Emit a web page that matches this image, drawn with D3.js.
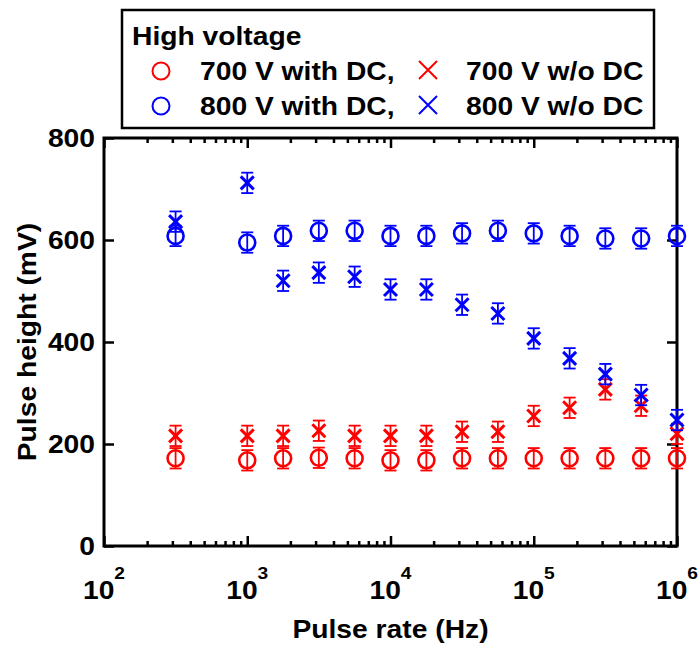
<!DOCTYPE html>
<html>
<head>
<meta charset="utf-8">
<script src="https://cdn.jsdelivr.net/npm/d3@7"></script>
<style>
  html, body { margin: 0; padding: 0; background: #fff; }
  svg { display: block; }
  text { font-family: "Liberation Sans", Arial, sans-serif; font-weight: bold; fill: #000; }
</style>
</head>
<body>
<svg id="chart" width="700" height="650"></svg>
<script>
// ---- data ----
const rates = [316, 1000, 1780, 3160, 5620, 10000, 17800, 31600, 56200, 100000, 178000, 316000, 562000, 1000000];
const v700DC   = [172, 168, 172, 173, 172, 168, 168, 172, 172, 172, 172, 172, 172, 172];
const v700noDC = [216, 216, 216, 226, 216, 216, 216, 224, 224, 255, 271, 307, 275, 220];
const v800DC   = [608, 595, 608, 618, 618, 608, 608, 613, 618, 613, 608, 603, 603, 608];
const v800noDC = [636, 712, 520, 536, 528, 503, 503, 473, 456, 407, 368, 337, 296, 247];
const err700DC   = [20, 20, 20, 20, 20, 20, 20, 20, 20, 20, 20, 20, 20, 20];
const err700noDC = [20, 20, 20, 20, 20, 20, 20, 20, 20, 20, 20, 20, 20, 20];
const err800DC   = [20, 20, 20, 20, 20, 20, 20, 20, 20, 20, 20, 20, 20, 20];
const err800noDC = [20, 20, 20, 20, 20, 20, 20, 20, 20, 20, 20, 20, 20, 20];
const yTicks = [0, 200, 400, 600, 800];
const xExponents = [2, 3, 4, 5, 6];
const legendTitle = "High voltage";
const legendLabels = ["700 V with DC,", "700 V w/o DC", "800 V with DC,", "800 V w/o DC"];
const xTitle = "Pulse rate (Hz)";
const yTitle = "Pulse height (mV)";

// ---- layout ----
const L = 104, R = 677, T = 138, B = 546;
const SX = 1.13; // horizontal glyph stretch seen in reference
const RED = "#ff0000", BLUE = "#0000ff";

const svg = d3.select("#chart");
const x = d3.scaleLog().domain([1e2, 1e6]).range([L, R]);
const y = d3.scaleLinear().domain([0, 800]).range([B, T]);

function label(g, str, px, py, size, anchor, rot) {
  return g.append("text")
    .attr("transform", `translate(${px},${py})` + (rot ? ` rotate(${rot})` : "") + ` scale(${SX},1)`)
    .attr("font-size", size)
    .attr("text-anchor", anchor || "start")
    .text(str);
}

// ---- axes (ticks inward) ----
const majors = xExponents.map(e => Math.pow(10, e));
const minors = [];
for (let e = 2; e < 6; e++) for (let k = 2; k <= 9; k++) minors.push(k * Math.pow(10, e));

function styleAxis(g) {
  g.select(".domain").remove();
  g.selectAll(".tick line").attr("stroke", "#000").attr("stroke-width", 2.5);
  g.selectAll(".tick text").remove();
}
svg.append("g").attr("transform", `translate(0,${B})`)
  .call(d3.axisBottom(x).tickValues(majors).tickSize(-10)).call(styleAxis);
svg.append("g").attr("transform", `translate(0,${B})`)
  .call(d3.axisBottom(x).tickValues(minors).tickSize(-5)).call(styleAxis);
svg.append("g").attr("transform", `translate(0,${T})`)
  .call(d3.axisTop(x).tickValues(majors).tickSize(-10)).call(styleAxis);
svg.append("g").attr("transform", `translate(0,${T})`)
  .call(d3.axisTop(x).tickValues(minors).tickSize(-5)).call(styleAxis);
svg.append("g").attr("transform", `translate(${L},0)`)
  .call(d3.axisLeft(y).tickValues(yTicks).tickSize(-10)).call(styleAxis);
svg.append("g").attr("transform", `translate(${R},0)`)
  .call(d3.axisRight(y).tickValues(yTicks).tickSize(-10)).call(styleAxis);

// frame
svg.append("rect").attr("x", L).attr("y", T).attr("width", R - L).attr("height", B - T)
  .attr("fill", "none").attr("stroke", "#000").attr("stroke-width", 3);

// tick labels
yTicks.forEach(v => label(svg, String(v), 95, y(v) + 9, 25, "end"));
xExponents.forEach(e => {
  const t = svg.append("text")
    .attr("transform", `translate(${x(Math.pow(10, e))},599) scale(${SX},1)`)
    .attr("font-size", 25).attr("text-anchor", "middle");
  t.append("tspan").text("10");
  t.append("tspan").attr("font-size", 17).attr("dy", -20).text(String(e));
});

// axis titles
label(svg, xTitle, (L + R) / 2, 638, 25, "middle");
label(svg, yTitle, 36, (T + B) / 2, 25, "middle", -90);

// ---- data marks ----
const plot = svg.append("g");
function errorBars(vals, errs, color) {
  const g = plot.append("g").attr("stroke", color).attr("stroke-width", 1.8).attr("fill", "none");
  rates.forEach((r, i) => {
    const cx = x(r), y1 = y(vals[i] + errs[i]), y2 = y(vals[i] - errs[i]);
    g.append("line").attr("x1", cx).attr("x2", cx).attr("y1", y1).attr("y2", y2);
    g.append("line").attr("x1", cx - 6).attr("x2", cx + 6).attr("y1", y1).attr("y2", y1);
    g.append("line").attr("x1", cx - 6).attr("x2", cx + 6).attr("y1", y2).attr("y2", y2);
  });
}
function circles(vals, color) {
  plot.append("g").selectAll("circle").data(vals).join("circle")
    .attr("cx", (d, i) => x(rates[i])).attr("cy", d => y(d)).attr("r", 8)
    .attr("fill", "none").attr("stroke", color).attr("stroke-width", 2.6);
}
function crosses(vals, color) {
  const s = 6.5;
  plot.append("g").selectAll("path").data(vals).join("path")
    .attr("d", (d, i) => {
      const cx = x(rates[i]), cy = y(d);
      return `M${cx - s},${cy - s}L${cx + s},${cy + s}M${cx - s},${cy + s}L${cx + s},${cy - s}`;
    })
    .attr("fill", "none").attr("stroke", color).attr("stroke-width", 3);
}
errorBars(v700DC, err700DC, RED);   circles(v700DC, RED);
errorBars(v700noDC, err700noDC, RED); crosses(v700noDC, RED);
errorBars(v800DC, err800DC, BLUE);  circles(v800DC, BLUE);
errorBars(v800noDC, err800noDC, BLUE); crosses(v800noDC, BLUE);

// ---- legend ----
const lg = svg.append("g");
lg.append("rect").attr("x", 122).attr("y", 10).attr("width", 532).attr("height", 118)
  .attr("fill", "#fff").attr("stroke", "#000").attr("stroke-width", 2.5);
label(lg, legendTitle, 132, 45, 25, "start");
const rows = [
  { cy: 71, base: 80, color: RED, a: legendLabels[0], b: legendLabels[1] },
  { cy: 106, base: 115, color: BLUE, a: legendLabels[2], b: legendLabels[3] }
];
rows.forEach(rw => {
  lg.append("circle").attr("cx", 161).attr("cy", rw.cy).attr("r", 8.5)
    .attr("fill", "none").attr("stroke", rw.color).attr("stroke-width", 2);
  const s = 9;
  lg.append("path")
    .attr("d", `M${428 - s},${rw.cy - 1 - s}L${428 + s},${rw.cy - 1 + s}M${428 - s},${rw.cy - 1 + s}L${428 + s},${rw.cy - 1 - s}`)
    .attr("fill", "none").attr("stroke", rw.color).attr("stroke-width", 2);
  label(lg, rw.a, 200, rw.base, 25, "start");
  label(lg, rw.b, 466, rw.base, 25, "start");
});
</script>
</body>
</html>
